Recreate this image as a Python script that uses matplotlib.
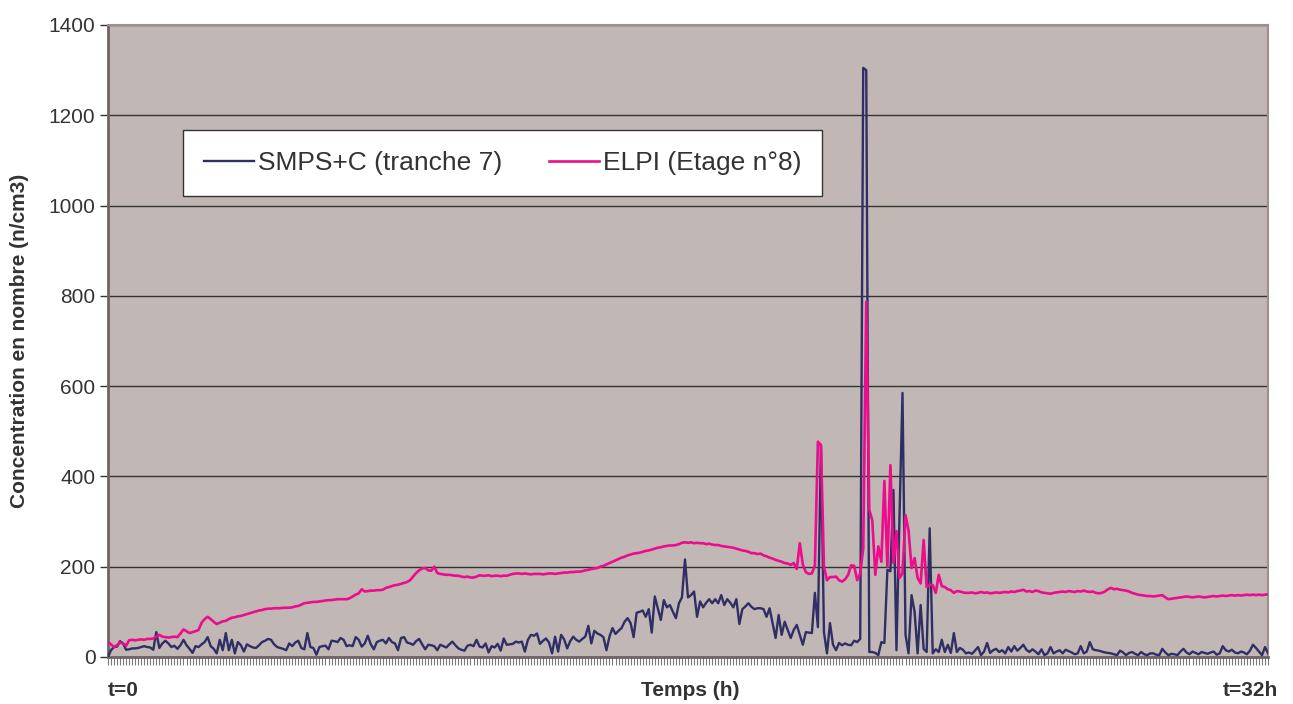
import matplotlib
matplotlib.use("Agg")
import matplotlib.pyplot as plt
import numpy as np

plt.rcParams["font.family"] = ["Liberation Sans", "DejaVu Sans"]

# ── Data (one value per time step, t=0 .. t=32h) ───────────────
smps = [
    0, 15, 22, 23, 35, 30, 16, 17, 19, 19,
    20, 22, 24, 22, 21, 16, 55, 20, 30, 36,
    30, 22, 25, 18, 26, 38, 26, 18, 9, 24,
    22, 28, 33, 44, 24, 18, 8, 38, 15, 53,
    15, 38, 8, 33, 26, 12, 28, 24, 21, 20,
    26, 33, 36, 40, 38, 28, 22, 20, 18, 15,
    30, 24, 32, 36, 20, 17, 53, 22, 20, 5,
    22, 24, 25, 17, 36, 35, 33, 42, 38, 24,
    26, 24, 44, 38, 23, 30, 47, 28, 17, 33,
    36, 38, 30, 42, 33, 30, 15, 42, 44, 32,
    30, 27, 35, 40, 28, 17, 27, 26, 24, 15,
    27, 24, 21, 28, 34, 26, 19, 16, 14, 25,
    27, 24, 38, 23, 21, 30, 10, 24, 21, 29,
    14, 41, 27, 28, 29, 34, 32, 34, 12, 38,
    49, 47, 52, 29, 36, 41, 32, 8, 45, 12,
    49, 39, 19, 35, 45, 38, 34, 40, 45, 69,
    30, 58, 52, 49, 44, 15, 45, 64, 51, 58,
    64, 78, 86, 75, 44, 98, 100, 103, 89, 106,
    54, 134, 108, 82, 126, 110, 115, 100, 86, 119,
    132, 216, 132, 137, 145, 89, 123, 110, 120, 128,
    119, 128, 119, 137, 115, 128, 120, 110, 128, 73,
    106, 112, 119, 111, 106, 108, 108, 106, 89, 108,
    75, 42, 93, 49, 78, 60, 42, 60, 71, 49,
    27, 55, 54, 53, 142, 66, 470, 55, 8, 75,
    27, 15, 31, 26, 30, 27, 26, 36, 33, 40,
    1305, 1300, 11, 11, 9, 4, 33, 31, 193, 190,
    370, 15, 310, 585, 49, 8, 137, 100, 8, 115,
    18, 11, 285, 8, 17, 11, 38, 11, 27, 9,
    53, 11, 20, 16, 8, 10, 7, 14, 22, 4,
    12, 31, 9, 15, 18, 11, 15, 8, 22, 12,
    24, 14, 20, 27, 16, 11, 17, 12, 6, 17,
    4, 8, 22, 8, 12, 15, 8, 16, 13, 10,
    6, 8, 24, 8, 12, 33, 17, 15, 14, 12,
    10, 9, 8, 6, 4, 14, 10, 4, 9, 11,
    7, 4, 11, 6, 4, 8, 8, 5, 4, 18,
    10, 4, 7, 6, 4, 12, 18, 10, 6, 12,
    9, 6, 11, 9, 7, 10, 12, 5, 8, 24,
    15, 12, 16, 10, 8, 12, 10, 6, 14, 27,
    20, 12, 4, 22, 8,
]

elpi = [
    33, 28, 22, 26, 32, 30, 25, 37, 38, 37,
    38, 39, 38, 40, 40, 41, 45, 49, 45, 44,
    43, 44, 45, 44, 52, 61, 57, 53, 55, 57,
    60, 76, 84, 89, 84, 78, 73, 76, 79, 80,
    84, 87, 88, 90, 91, 93, 95, 97, 99, 101,
    103, 104, 106, 107, 107, 108, 108, 108, 109, 109,
    109, 110, 112, 113, 116, 119, 120, 121, 122, 122,
    123, 124, 125, 126, 126, 127, 128, 128, 128, 128,
    130, 134, 138, 141, 150, 145, 146, 147, 147, 148,
    148, 149, 153, 155, 157, 159, 160, 162, 164, 166,
    170, 178, 186, 192, 196, 197, 192, 191, 200, 186,
    184, 183, 182, 182, 181, 180, 180, 178, 177, 178,
    176, 176, 178, 181, 180, 180, 181, 179, 180, 180,
    179, 180, 180, 182, 184, 185, 185, 184, 185, 184,
    183, 184, 184, 184, 183, 184, 185, 185, 184, 185,
    186, 187, 187, 188, 188, 189, 189, 190, 192, 193,
    195, 196, 197, 200, 202, 205, 208, 211, 214, 217,
    220, 222, 225, 227, 229, 230, 231, 233, 235, 236,
    238, 240, 242, 243, 245, 246, 247, 247, 248, 250,
    253, 254, 253, 254, 252, 253, 252, 252, 250, 251,
    249, 248, 248, 246, 245, 244, 243, 242, 240, 238,
    236, 235, 233, 230, 230, 228, 229, 225, 223, 220,
    218, 215, 213, 211, 208, 207, 204, 208, 195, 252,
    205, 188, 184, 185, 203, 477, 469, 200, 170, 177,
    177, 178, 170, 167, 172, 182, 203, 202, 170, 185,
    240, 787, 326, 303, 182, 245, 211, 390, 200, 425,
    208, 279, 175, 185, 314, 280, 197, 219, 175, 163,
    259, 155, 160, 159, 142, 182, 157, 155, 150, 148,
    142, 146, 145, 143, 142, 142, 143, 141, 142, 144,
    142, 143, 141, 142, 143, 142, 143, 144, 143, 145,
    144, 146, 147, 149, 145, 146, 144, 147, 146, 143,
    142, 141, 140, 142, 143, 144, 145, 144, 146, 145,
    144, 146, 145, 147, 145, 144, 145, 142, 141, 142,
    145, 150, 153, 150, 151, 149, 148, 147, 145, 142,
    140, 138, 137, 136, 135, 135, 134, 135, 136, 137,
    132, 128, 129, 130, 131, 132, 133, 134, 133, 132,
    133, 134, 133, 132, 133, 134, 135, 134, 135, 136,
    135, 136, 137, 136, 137, 136, 137, 138, 137, 138,
    137, 138, 137, 138, 139,
]

y_ticks = [0, 200, 400, 600, 800, 1000, 1200, 1400]

# ── Figure ────────────────────────────────────────────────────
fig = plt.figure(figsize=(12.93, 7.04), dpi=100)
ax = fig.add_axes([0.0835, 0.0668, 0.8972, 0.8977])
ax.set_facecolor("#C1B7B5")

x = np.arange(len(smps))
ax.plot(x, smps, color="#2F2F66", lw=1.7, label="SMPS+C (tranche 7)", zorder=3)
ax.plot(x, elpi, color="#EC0C8C", lw=1.9, label="ELPI (Etage n°8)", zorder=4)

ax.set_xlim(0, len(smps) - 1)
ax.set_ylim(0, 1400)
ax.set_yticks(y_ticks)
ax.yaxis.grid(True, color="#333333", lw=1.0)
ax.set_axisbelow(True)

# one tick per sample along the time axis, no labels
ax.set_xticks(x)
ax.set_xticklabels([])
ax.tick_params(axis="x", length=6, width=0.8, color="#7a7a7a", direction="out")
ax.tick_params(axis="y", length=6, width=1.0, color="#333333", direction="out",
               labelsize=15, labelcolor="#333333", pad=3)

for side in ("top", "right"):
    ax.spines[side].set_color("#9a9090")
    ax.spines[side].set_linewidth(1.5)
ax.spines["left"].set_color("#6e6464")
ax.spines["left"].set_linewidth(2.0)
ax.spines["bottom"].set_color("#6e6464")
ax.spines["bottom"].set_linewidth(2.0)

# ── Legend ────────────────────────────────────────────────────
leg = ax.legend(loc="upper left", bbox_to_anchor=(0.0647, 0.834), ncol=2,
                fontsize=19, frameon=True, fancybox=False, framealpha=1,
                edgecolor="#333333", facecolor="white", handlelength=1.9,
                handletextpad=0.15, columnspacing=1.75, borderpad=0.8,
                borderaxespad=0)
leg.get_frame().set_linewidth(1.0)
for t in leg.get_texts():
    t.set_color("#333333")

# ── Axis texts ────────────────────────────────────────────────
fig.text(20 / 1293, 1 - 341 / 704, "Concentration en nombre (n/cm3)",
         rotation=90, ha="center", va="center", fontsize=15,
         fontweight="bold", color="#333333")
fig.text(108 / 1293, 1 - 690 / 704, "t=0", ha="left", va="center",
         fontsize=15, fontweight="bold", color="#333333")
fig.text(690 / 1293, 1 - 691 / 704, "Temps (h)", ha="center", va="center",
         fontsize=15, fontweight="bold", color="#333333")
fig.text(1278 / 1293, 1 - 690 / 704, "t=32h", ha="right", va="center",
         fontsize=15, fontweight="bold", color="#333333")

fig.savefig("out.png", dpi=100)
plt.close(fig)
